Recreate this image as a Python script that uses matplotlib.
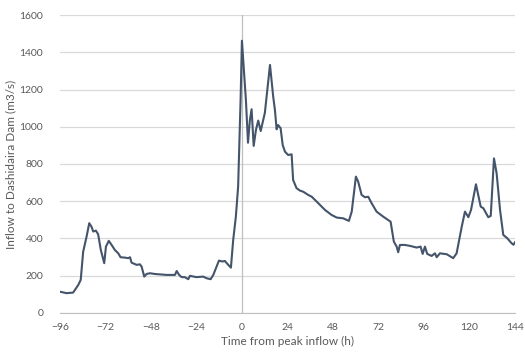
import matplotlib
matplotlib.use("Agg")
import matplotlib.pyplot as plt

hours = [-96, -92.5, -89, -86.3, -85, -83.7, -81.9, -80.5, -79.3, -78.4, -77, -75.8, -74.4, -72.6,
         -71.7, -70.2, -68.7, -67, -65.2, -64, -61.7, -60, -59, -58.2, -55.5, -53.8, -52.9, -51.5,
         -50.3, -48.5, -45.9, -39.7, -35.3, -34.4, -33.1, -31.8, -30.1, -28.3, -27.4, -23.9, -20.4,
         -18.6, -16.5, -15.1, -13.7, -12.1, -10.4, -9, -7.2, -5.8, -4.6, -3.2, -2, -0.7, 0, 2.1,
         3.2, 4.2, 5.1, 6.2, 7.4, 8.6, 9.9, 11.2, 12.1, 14.8, 16.5, 17.4, 18.3, 19.1, 20.4, 21.5,
         22.7, 24.4, 26.2, 27, 28.8, 30.6, 32.3, 34.9, 36.8, 39.4, 43.8, 47.3, 50, 53.4, 56.4, 57.9,
         60.1, 61.3, 63.1, 64.9, 66.6, 68.4, 71, 74.5, 78.4, 80.1, 81.6, 82.4, 83.3, 85.9, 88.6,
         92.1, 94.2, 95.3, 96.5, 97.7, 100, 101.8, 102.7, 104.4, 108, 111.4, 113.2, 115.9, 117.6,
         119.4, 120.8, 123.4, 125.9, 127.3, 129.9, 131.2, 132.9, 134.3, 136.1, 137.8, 139.9, 142.2,
         143.2, 144]
inflow = [114, 106, 109, 150, 177, 329, 410, 482, 463, 437, 442, 422, 338, 267,
          356, 387, 365, 338, 320, 299, 297, 294, 299, 270, 258, 261, 249, 195,
          209, 213, 209, 204, 204, 225, 204, 192, 192, 181, 199, 192, 195,
          186, 181, 204, 240, 281, 276, 279, 258, 243, 392, 517, 678, 1144, 1462, 1144,
          914, 1036, 1094, 897, 983, 1033, 977, 1036, 1075, 1332, 1161, 1090, 986, 1009, 992, 902,
          866, 848, 852, 714, 670, 657, 651, 634, 624, 598, 553, 526, 512, 508, 494, 544,
          732, 705, 634, 621, 624, 589, 544, 517, 490, 383, 356, 326, 365, 365, 360,
          351, 356, 317, 356, 317, 306, 320, 299, 320, 315, 294, 320, 463, 544,
          514, 553, 691, 571, 562, 514, 521, 830, 750, 553, 419, 401, 374,
          366, 380]

xticks = [-96, -72, -48, -24, 0, 24, 48, 72, 96, 120, 144]
yticks = [0, 200, 400, 600, 800, 1000, 1200, 1400, 1600]

plt.rcParams['font.family'] = ['Lato', 'DejaVu Sans']
fig = plt.figure(figsize=(5.25, 3.58), dpi=100)
ax = fig.add_axes([0.114, 0.126, 0.867, 0.832])
ax.plot(hours, inflow, color='#44546a', lw=1.5, zorder=3)
ax.axvline(0, color='#bfbfbf', lw=0.9, zorder=2)
ax.set_xlim(-96, 144)
ax.set_ylim(0, 1600)
ax.set_xticks(xticks)
ax.set_yticks(yticks)
ax.grid(axis='y', color='#d9d9d9', lw=0.9)
ax.set_axisbelow(True)
for s in ['top', 'right', 'left']:
    ax.spines[s].set_visible(False)
ax.spines['bottom'].set_color('#bfbfbf')
ax.tick_params(length=0, labelsize=7.5, labelcolor='#595959')
ax.tick_params(axis='y', pad=12)
ax.tick_params(axis='x', pad=7)
ax.set_xlabel('Time from peak inflow (h)', fontsize=8.5, color='#595959', labelpad=3)
ax.set_ylabel('Inflow to Dashidaira Dam (m3/s)', fontsize=8.5, color='#595959', labelpad=2)
fig.savefig('out.png', dpi=100)
